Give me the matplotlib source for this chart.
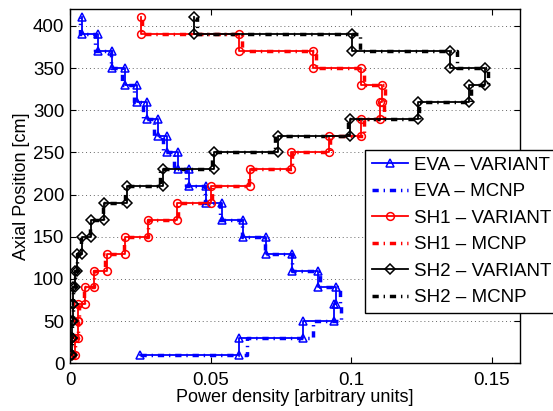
import matplotlib
matplotlib.use("Agg")
import matplotlib.pyplot as plt
import numpy as np

plt.rcParams['font.family'] = ['Liberation Sans', 'DejaVu Sans']

# Axial nodes [cm]
axial_pos = [10, 30, 50, 70, 90, 110, 130, 150, 170, 190, 210,
             230, 250, 270, 290, 310, 330, 350, 370, 390, 410]

# Power density per node (arbitrary units)
eva_variant = [0.0250, 0.0600, 0.0827, 0.0938, 0.0945, 0.0883, 0.0791, 0.0698,
               0.0616, 0.0539, 0.0483, 0.0424, 0.0383, 0.0345, 0.0312, 0.0273,
               0.0239, 0.0197, 0.0150, 0.0100, 0.0044]
eva_mcnp = [0.0250, 0.0630, 0.0865, 0.0965, 0.0960, 0.0890, 0.0790, 0.0692,
            0.0610, 0.0535, 0.0480, 0.0412, 0.0370, 0.0330, 0.0298, 0.0259,
            0.0227, 0.0186, 0.0145, 0.0088, 0.0035]

sh1_variant = [0.0006, 0.0018, 0.0028, 0.0030, 0.0055, 0.0085, 0.0130, 0.0194,
               0.0277, 0.0380, 0.0502, 0.0641, 0.0786, 0.0920, 0.1036, 0.1102,
               0.1108, 0.1036, 0.0863, 0.0600, 0.0253]
sh1_mcnp = [0.0006, 0.0019, 0.0030, 0.0032, 0.0050, 0.0086, 0.0126, 0.0192,
            0.0279, 0.0383, 0.0505, 0.0635, 0.0790, 0.0924, 0.1045, 0.1115,
            0.1120, 0.1047, 0.0874, 0.0612, 0.0255]

sh2_variant = [0.0005, 0.0006, 0.0007, 0.0009, 0.0011, 0.0016, 0.0024, 0.0041,
               0.0073, 0.0120, 0.0203, 0.0330, 0.0512, 0.0739, 0.0997, 0.1239,
               0.1420, 0.1477, 0.1351, 0.1003, 0.0441]
sh2_mcnp = [0.0005, 0.0006, 0.0007, 0.0009, 0.0011, 0.0016, 0.0024, 0.0040,
            0.0072, 0.0118, 0.0194, 0.0320, 0.0504, 0.0730, 0.0990, 0.1240,
            0.1425, 0.1486, 0.1377, 0.1030, 0.0450]

labels = ["EVA \u2013 VARIANT", "EVA \u2013 MCNP",
          "SH1 \u2013 VARIANT", "SH1 \u2013 MCNP",
          "SH2 \u2013 VARIANT", "SH2 \u2013 MCNP"]


def stairs(power, pos):
    """Staircase vertices: horizontal step at each node, then up to the next."""
    power = np.asarray(power)
    pos = np.asarray(pos)
    return np.repeat(power, 2)[1:], np.repeat(pos, 2)[:-1]


fig = plt.figure(figsize=(5.53, 4.11), dpi=100)
ax = fig.add_axes([70 / 553, 1 - 363.3 / 411, 450 / 553, 354.3 / 411])

series = [
    (eva_variant, eva_mcnp, 'blue', '^'),
    (sh1_variant, sh1_mcnp, 'red', 'o'),
    (sh2_variant, sh2_mcnp, 'black', 'D'),
]

handles = []
for variant, mcnp, color, marker in series:
    xv, yv = stairs(variant, axial_pos)
    xm, ym = stairs(mcnp, axial_pos)
    msize = 4.8 if marker == 'D' else 5.6
    h1, = ax.plot(xv, yv, color=color, lw=1.3, marker=marker, markersize=msize,
                  markerfacecolor='none', markeredgewidth=1.1, zorder=3)
    h2, = ax.plot(xm, ym, color=color, lw=2.5, linestyle=(0, (1.8, 1.4, 0.4, 1.4)),
                  zorder=2)
    handles += [h1, h2]

ax.set_xlim(0, 0.16)
ax.set_ylim(0, 420)
ax.set_xticks([0, 0.05, 0.1, 0.15])
ax.set_xticklabels(['0', '0.05', '0.1', '0.15'])
ax.set_yticks(np.arange(0, 401, 50))

ax.yaxis.grid(True, linestyle=(0, (1, 3)), color='#666666', linewidth=0.7)
ax.set_axisbelow(True)

ax.tick_params(direction='in', top=True, right=True, length=4, width=0.8,
               labelsize=13.5)
ax.tick_params(axis='x', pad=6)
ax.tick_params(axis='y', pad=4)
for sp in ax.spines.values():
    sp.set_linewidth(1.0)

ax.set_xlabel("Power density [arbitrary units]", fontsize=13, labelpad=0)
ax.set_ylabel("Axial Position [cm]", fontsize=13, labelpad=2)

leg = ax.legend(handles, labels, loc='upper left',
                bbox_to_anchor=(365 / 553, 1 - 150 / 411),
                bbox_transform=fig.transFigure, fontsize=13.5, numpoints=1,
                fancybox=False, framealpha=1, edgecolor='black',
                handlelength=1.95, handletextpad=0.3, labelspacing=0.5,
                borderpad=0.35, borderaxespad=0)
leg.get_frame().set_linewidth(1.0)

fig.savefig("out.png", dpi=100)
